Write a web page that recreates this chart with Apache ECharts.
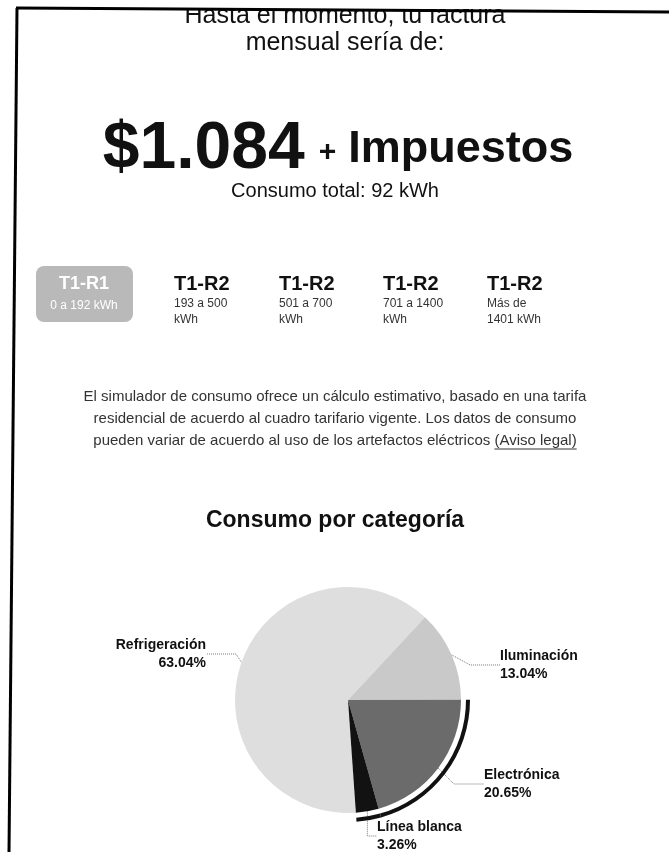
<!DOCTYPE html>
<html>
<head>
<meta charset="utf-8">
<script src="https://cdn.jsdelivr.net/npm/echarts@6/dist/echarts.min.js"></script>
<style>
  html, body { margin: 0; padding: 0; background: #fff; }
  #chart { width: 669px; height: 852px; }
</style>
</head>
<body>
<div id="chart"></div>
<script>
(function () {
  var FONT = '"Liberation Sans", Arial, sans-serif'

  // datos
  var categorias = ['Refrigeración', 'Iluminación', 'Electrónica', 'Línea blanca']
  var kwh = [58, 12, 19, 3]
  var tarifas = ['T1-R1', 'T1-R2', 'T1-R2', 'T1-R2', 'T1-R2']
  var rangos = ['0 a 192\nkWh', '193 a 500\nkWh', '501 a 700\nkWh', '701 a 1400\nkWh', 'Más de\n1401 kWh']
  var totalTexto = 'Consumo total: 92 kWh'
  var montoTexto = '$1.084'
  var parrafo = [
    'El simulador de consumo ofrece un cálculo estimativo, basado en una tarifa',
    'residencial de acuerdo al cuadro tarifario vigente. Los datos de consumo',
    'pueden variar de acuerdo al uso de los artefactos eléctricos (Aviso legal)'
  ]

  var colores = ['#dedede', '#c9c9c9', '#6b6b6b', '#121212']
  var anillo = ['transparent', 'transparent', '#111', '#111']
  var labelPos = [
    { x: 206, y: 654, align: 'right' },
    { x: 500, y: 665, align: 'left' },
    { x: 484, y: 784, align: 'left' },
    { x: 377, y: 836, align: 'left' }
  ]

  var total = kwh.reduce(function (a, b) { return a + b }, 0)

  var myChart = echarts.init(document.getElementById('chart'))

  var graphics = []
  function txt(text, x, y, size, weight, color, align) {
    graphics.push({
      type: 'text', x: x, y: y, z: 10,
      style: {
        text: text, fill: color || '#111', textAlign: align || 'center', textVerticalAlign: 'middle',
        font: (weight || 'normal') + ' ' + size + 'px ' + FONT, lineHeight: Math.round(size * 1.3)
      }
    })
  }

  txt('Hasta el momento, tu factura', 345, 16, 25)
  txt('mensual sería de:', 345, 43, 25)
  graphics.push({
    type: 'text', x: 338, y: 150, z: 10,
    style: {
      text: '{a|' + montoTexto + '}{b|+}{c|Impuestos}',
      textAlign: 'center', textVerticalAlign: 'middle',
      rich: {
        a: { fontSize: 66, fontWeight: 'bold', fontFamily: FONT, fill: '#111' },
        b: { fontSize: 30, fontWeight: 'bold', fontFamily: FONT, fill: '#111', padding: [6, 12, 0, 14] },
        c: { fontSize: 45, fontWeight: 'bold', fontFamily: FONT, fill: '#111' }
      }
    }
  })
  txt(totalTexto, 335, 191, 20)

  // caja gris de la primera tarifa
  graphics.push({
    type: 'rect', z: 5,
    shape: { x: 36, y: 266, width: 97, height: 56, r: 8 },
    style: { fill: '#b9b9b9' }
  })
  txt(tarifas[0], 84, 284, 18, 'bold', '#fff')
  txt(rangos[0].replace('\n', ' '), 84, 306, 12, 'normal', '#fff')
  var colX = [174, 279, 383, 487]
  for (var i = 1; i < tarifas.length; i++) {
    txt(tarifas[i], colX[i - 1], 284, 20, 'bold', '#111', 'left')
    txt(rangos[i], colX[i - 1], 312, 12, 'normal', '#333', 'left')
  }

  for (var j = 0; j < parrafo.length; j++) {
    txt(parrafo[j], 335, 397 + j * 22, 15, 'normal', '#333')
  }
  // subrayado de (Aviso legal)
  var ctx = document.createElement('canvas').getContext('2d')
  ctx.font = '15px ' + FONT
  var wLinea = ctx.measureText(parrafo[2]).width
  var wAviso = ctx.measureText('(Aviso legal)').width
  var xFin = 335 + wLinea / 2
  graphics.push({
    type: 'line', z: 10,
    shape: { x1: xFin - wAviso, y1: 449, x2: xFin, y2: 449 },
    style: { stroke: '#333', lineWidth: 1 }
  })

  txt('Consumo por categoría', 335, 521, 23, 'bold')

  // marco del papel escaneado
  graphics.push({ type: 'rect', z: 20, shape: { x: 0, y: 0, width: 669, height: 9 }, style: { fill: '#fff' } })
  graphics.push({ type: 'polyline', z: 21, shape: { points: [[16, 8], [669, 12]] }, style: { stroke: '#000', lineWidth: 3, fill: null } })
  graphics.push({ type: 'polyline', z: 21, shape: { points: [[17, 8], [9, 852]] }, style: { stroke: '#000', lineWidth: 3, fill: null } })

  var datos = categorias.map(function (c, k) {
    return { name: c, value: kwh[k], itemStyle: { color: colores[k] } }
  })
  var datosAnillo = categorias.map(function (c, k) {
    return { name: c, value: kwh[k], itemStyle: { color: anillo[k] } }
  })

  var option = {
    animation: false,
    backgroundColor: '#fff',
    graphic: graphics,
    series: [{
      type: 'pie',
      center: [348, 700],
      radius: [0, 113],
      startAngle: 274,
      clockwise: true,
      avoidLabelOverlap: false,
      data: datos,
      itemStyle: { borderWidth: 0 },
      label: {
        show: true,
        formatter: function (p) {
          return p.name + '\n' + (p.value / total * 100).toFixed(2) + '%'
        },
        fontFamily: FONT,
        fontSize: 14,
        fontWeight: 'bold',
        color: '#111',
        lineHeight: 18
      },
      labelLine: {
        show: true,
        lineStyle: { color: '#777', type: 'dotted', width: 1 }
      },
      labelLayout: function (p) {
        var lp = labelPos[p.dataIndex]
        return { x: lp.x, y: lp.y, align: lp.align, verticalAlign: 'middle' }
      }
    }, {
      type: 'pie',
      center: [348, 700],
      radius: [118, 122],
      startAngle: 274,
      clockwise: true,
      silent: true,
      data: datosAnillo,
      itemStyle: { borderWidth: 0 },
      label: { show: false },
      labelLine: { show: false }
    }]
  }
  myChart.setOption(option)
})()
</script>
</body>
</html>
